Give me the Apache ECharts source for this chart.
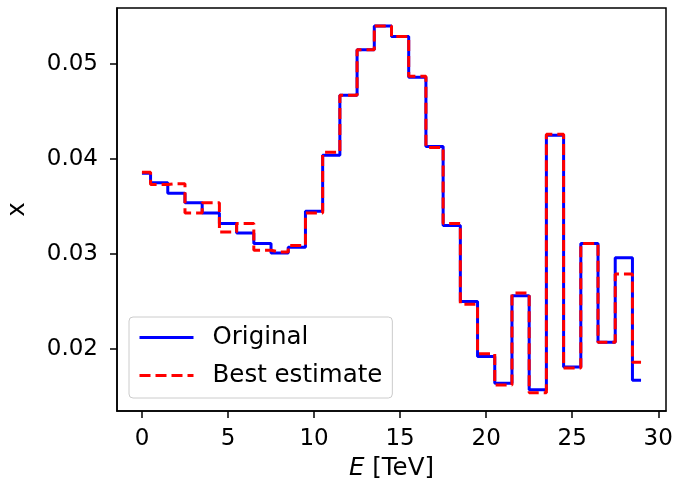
<!DOCTYPE html>
<html>
<head>
<meta charset="utf-8">
<script src="https://cdn.jsdelivr.net/npm/echarts@6/dist/echarts.min.js"></script>
<style>html,body{margin:0;padding:0;background:#fff;}#c{width:674px;height:492px;}</style>
</head>
<body>
<div id="c"></div>
<script>
var energies = [0,1,2,3,4,5,6,7,8,9,10,11,12,13,14,15,16,17,18,19,20,21,22,23,24,25,26,27,28,29];
var original = [0.0385,0.0375,0.0364,0.0354,0.0343,0.0332,0.0322,0.0311,0.0301,0.0307,0.0345,0.0404,0.0467,0.0515,0.0540,0.0529,0.0486,0.0413,0.0330,0.0250,0.0192,0.0164,0.0256,0.0157,0.0425,0.0181,0.0311,0.0207,0.0296,0.0167];
var bestEstimate = [0.0386,0.0373,0.0374,0.0343,0.0354,0.0323,0.0332,0.0304,0.0302,0.0309,0.0343,0.0407,0.0467,0.0515,0.0540,0.0529,0.0487,0.0412,0.0332,0.0247,0.0195,0.0162,0.0259,0.0154,0.0426,0.0180,0.0311,0.0207,0.0279,0.0186];
var xTicks = [0,5,10,15,20,25,30];
var yTicks = [0.02,0.03,0.04,0.05];

function pairs(xs, ys){ return xs.map(function(x,i){ return [x, ys[i]]; }); }

var font = 'DejaVu Sans';
var chart = echarts.init(document.getElementById('c'));
chart.setOption({
  animation: false,
  backgroundColor: '#ffffff',
  grid: {left:117, right:8, top:8, bottom:81, containLabel:false, outerBoundsMode:'none',
         show:true, borderColor:'#000', borderWidth:1.5, backgroundColor:'transparent'},
  xAxis: {
    type:'value', min:-1.45, max:30.45, position:'bottom',
    name:'{i|E} [TeV]', nameLocation:'middle', nameGap:45,
    nameTextStyle:{fontFamily:font, fontSize:24.5, color:'#000', rich:{i:{fontFamily:font, fontSize:24.5, fontStyle:'italic', color:'#000'}}},
    axisLine:{show:true, onZero:false, lineStyle:{color:'#000', width:1.5}},
    axisTick:{show:true, inside:false, customValues:xTicks, length:7, lineStyle:{color:'#000', width:1.5}},
    axisLabel:{customValues:xTicks, fontFamily:font, fontSize:23, color:'#000', margin:17},
    splitLine:{show:false}
  },
  yAxis: {
    type:'value', min:0.01347, max:0.05589, position:'left',
    name:'x', nameLocation:'middle', nameGap:87, nameRotate:90,
    nameTextStyle:{fontFamily:font, fontSize:24.5, color:'#000'},
    axisLine:{show:true, onZero:false, lineStyle:{color:'#000', width:1.5}},
    axisTick:{show:true, inside:false, customValues:yTicks, length:7, lineStyle:{color:'#000', width:1.5}},
    axisLabel:{customValues:yTicks, fontFamily:font, fontSize:23, color:'#000', margin:19,
      formatter:function(v){ return v.toFixed(2); }},
    splitLine:{show:false}
  },
  legend: {
    orient:'vertical', left:129, top:317,
    padding:[8,10,10,9],
    itemWidth:54, itemHeight:25, itemGap:13,
    backgroundColor:'rgba(255,255,255,0.8)', borderColor:'#cccccc', borderWidth:1, borderRadius:4,
    itemStyle:{opacity:0, borderWidth:0},
    lineStyle:{width:3},
    textStyle:{fontFamily:font, fontSize:24.5, lineHeight:25, color:'#000', padding:[0,0,0,14]},
    data:['Original','Best estimate']
  },
  series: [
    {name:'Original', type:'line', step:'middle', symbol:'none', data:pairs(energies, original),
     lineStyle:{color:'#0000ff', width:3}, itemStyle:{color:'#0000ff'}},
    {name:'Best estimate', type:'line', step:'middle', symbol:'none', data:pairs(energies, bestEstimate),
     lineStyle:{color:'#ff0000', width:3, type:[11,5]}, itemStyle:{color:'#ff0000'}}
  ]
});
</script>
</body>
</html>
